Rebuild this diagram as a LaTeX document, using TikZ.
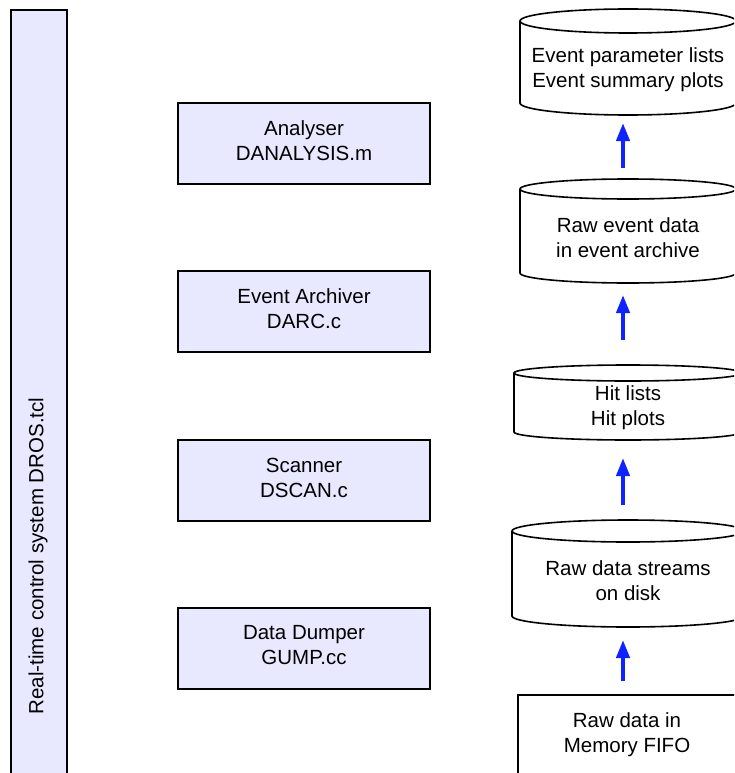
\documentclass[tikz,border=0pt]{standalone}
\usepackage{fontspec}
\setmainfont{Liberation Sans}
\usetikzlibrary{arrows.meta,calc}

\definecolor{procfill}{RGB}{232,232,255}
\definecolor{flowblue}{RGB}{15,35,255}

\tikzset{
  lbl/.style={align=center, font=\fontsize{20.5}{25}\selectfont, inner sep=0pt},
  procbox/.style={draw=black, line width=1.6pt, fill=procfill,
                  minimum width=252pt, minimum height=81pt, inner sep=0pt},
  outline/.style={draw=black, line width=1.6pt},
  body/.style={inner sep=0pt, outer sep=0pt},
  flow/.style={draw=flowblue, line width=4pt,
               -{Triangle[length=18pt,width=13pt]}},
}

% storage drum: left edge, top, bottom, half height of the end ellipses
\newcommand\drum[4]{%
  \draw[outline] (#1,#2+#4) -- (#1,#3-#4)
    arc[start angle=180, end angle=360, x radius={(628-#1)*1pt}, y radius=#4pt]
    -- (1256-#1,#2+#4);
  \draw[outline] (628,#2+#4) ellipse[x radius={(628-#1)*1pt}, y radius=#4pt];
}

\begin{document}
\begin{tikzpicture}[x=1pt, y=-1pt]
  \useasboundingbox (0,0) rectangle (734,773);
  \clip (0,0) rectangle (734,773);

  % control system bar
  \node[body, draw=black, line width=1.6pt, fill=procfill,
        minimum width=56pt, minimum height=800pt, anchor=north west] (dros) at (11,10) {};
  \node[lbl, rotate=90] (drost) at (38,556) {Real-time control system DROS.tcl};

  % processes
  \node[procbox] (ana)  at (304,143.5) {};
  \node[procbox] (darc) at (304,311.5) {};
  \node[procbox] (scan) at (304,480.5) {};
  \node[procbox] (gump) at (304,648.5) {};
  \node[lbl] (anat)  at (304,140.5) {Analyser\\DANALYSIS.m};
  \node[lbl] (darct) at (304,308.5) {Event Archiver\\DARC.c};
  \node[lbl] (scant) at (304,477.5) {Scanner\\DSCAN.c};
  \node[lbl] (gumpt) at (304,645.5) {Data Dumper\\GUMP.cc};

  % data stores
  \drum{520}{9}{115}{12}
  \drum{520}{179}{283}{10}
  \drum{514}{365}{440}{8}
  \drum{512}{520}{627}{11}
  \node[body, minimum width=216pt, minimum height=106pt] (c1) at (628,62) {};
  \node[body, minimum width=216pt, minimum height=104pt] (c2) at (628,231) {};
  \node[body, minimum width=228pt, minimum height=75pt]  (c3) at (628,402.5) {};
  \node[body, minimum width=232pt, minimum height=107pt] (c4) at (628,573.5) {};
  \node[body, draw=black, line width=1.6pt, anchor=north west,
        minimum width=240pt, minimum height=120pt] (fifo) at (518,695) {};

  \node[lbl] (c1t) at (628,70)    {Event parameter lists\\Event summary plots};
  \node[lbl] (c2t) at (628,237.5) {Raw event data\\in event archive};
  \node[lbl] (c3t) at (628,408)   {Hit lists\\Hit plots};
  \node[lbl] (c4t) at (628,580.5) {Raw data streams\\on disk};
  \node[lbl] (fifot) at (627,735) {Raw data in\\Memory FIFO};

  % data flow
  \coordinate (ax) at (623,0);
  \draw[flow, shorten <=11pt, shorten >=8pt]  (c2.north -| ax) -- (c1.south -| ax);
  \draw[flow, shorten <=25pt, shorten >=12pt] (c3.north -| ax) -- (c2.south -| ax);
  \draw[flow, shorten <=15pt, shorten >=18pt] (c4.north -| ax) -- (c3.south -| ax);
  \draw[flow, shorten <=14pt, shorten >=13pt] (fifo.north -| ax) -- (c4.south -| ax);
\end{tikzpicture}
\end{document}
